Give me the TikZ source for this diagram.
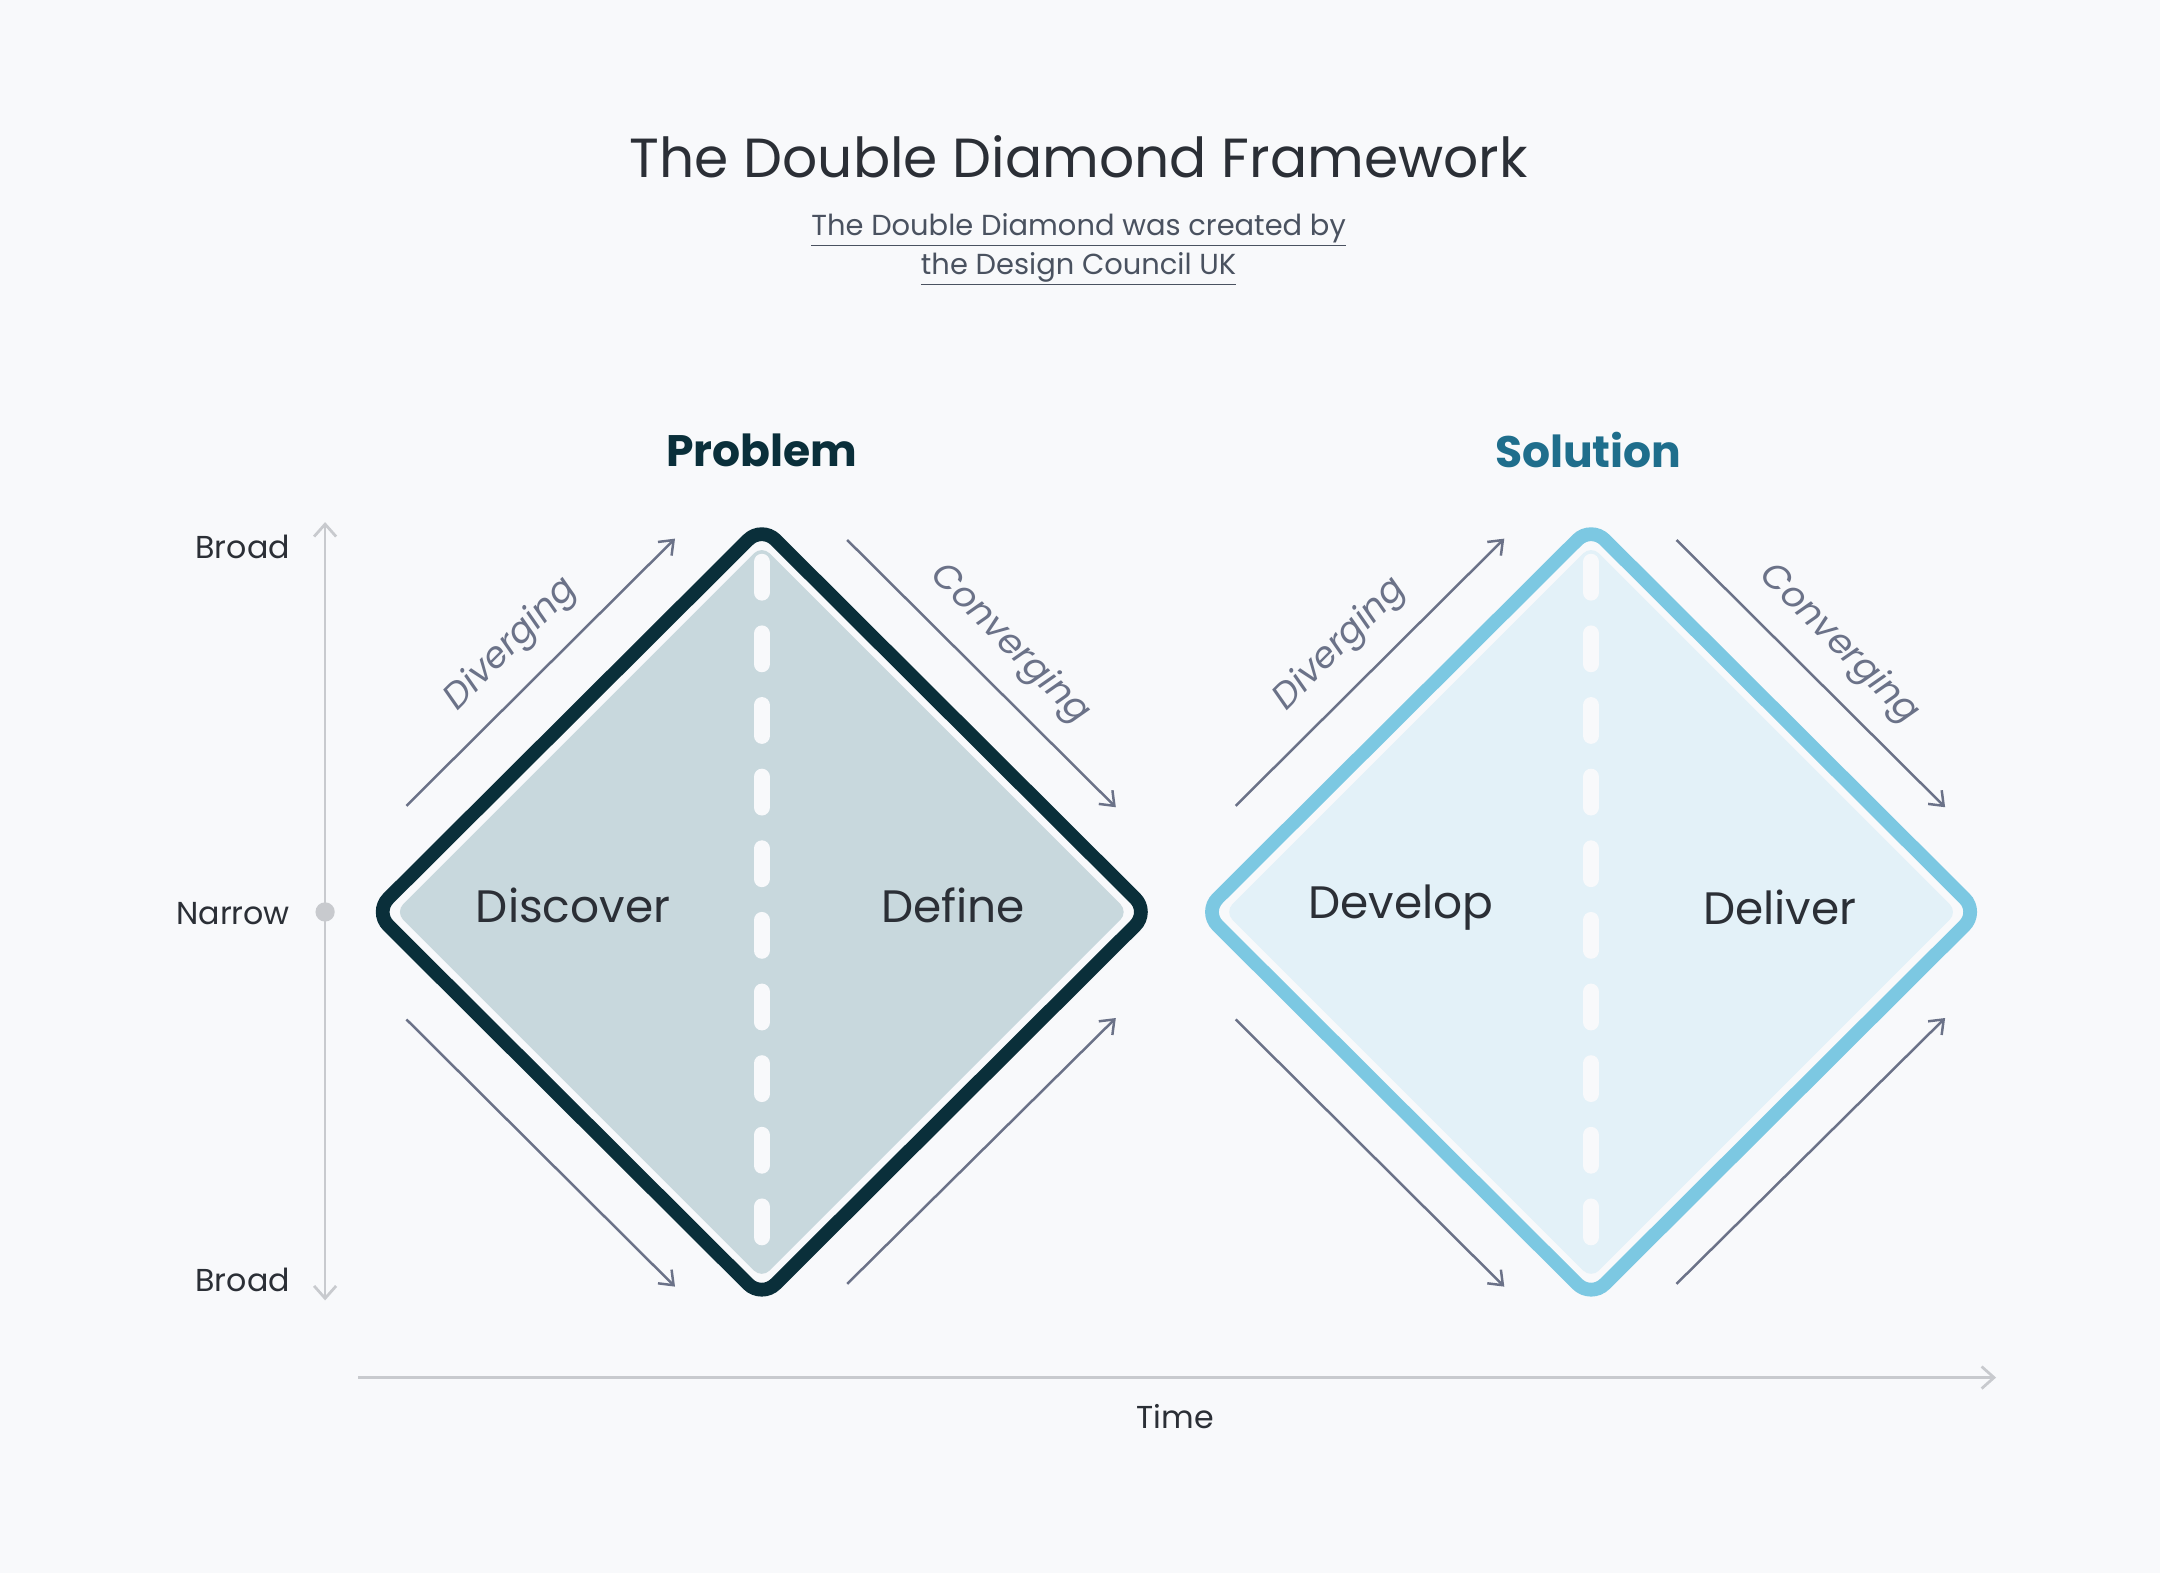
\documentclass[tikz,border=0pt]{standalone}
\usepackage{fontspec}
\setmainfont{Poppins}
\usetikzlibrary{positioning,arrows.meta}
\definecolor{bgcol}{HTML}{F8F9FB}
\definecolor{textcol}{HTML}{2B2F36}
\definecolor{subcol}{HTML}{4A5260}
\definecolor{probcol}{HTML}{0A2F3A}
\definecolor{probfill}{HTML}{C8D8DD}
\definecolor{solcol}{HTML}{7CC8E2}
\definecolor{solfill}{HTML}{E3F1F8}
\definecolor{solhead}{HTML}{1F6E8C}
\definecolor{arrcol}{HTML}{6B7288}
\definecolor{axiscol}{HTML}{C8CACE}
\tikzset{
  phase/.style={font=\fontsize{33}{36}\selectfont, text=textcol},
  heading/.style={font=\fontsize{32}{36}\selectfont\bfseries},
  side/.style={font=\fontsize{23}{26}\selectfont, text=textcol, anchor=east},
  flow/.style={font=\fontsize{26}{28}\selectfont\itshape, text=arrcol},
  line/.style={-{Straight Barb[length=9pt,width=14pt]}, draw=arrcol, line width=1.8pt},
  axis/.style={{Straight Barb[length=9pt,width=16pt]}-{Straight Barb[length=9pt,width=16pt]}, draw=axiscol, line width=2pt}
}
\begin{document}
\begin{tikzpicture}[x=1pt,y=-1pt]
  \fill[bgcol] (0,0) rectangle (1568,1142);
  \useasboundingbox (0,0) rectangle (1568,1142);

  % title
  \node[font=\fontsize{40}{46}\selectfont, text=textcol] (title) at (783,114) {The Double Diamond Framework};
  \node[font=\fontsize{21}{28}\selectfont, text=subcol, align=center] (subtitle) at (783,181)
    {\underline{The Double Diamond was created by}\\\underline{the Design Council UK}};

  % headings
  \node[heading, text=probcol] (problem) at (553,327) {Problem};
  \node[heading, text=solhead] (solution) at (1153,327) {Solution};

  % diamonds
  \foreach \cx/\sc/\fc in {553/probcol/probfill, 1155/solcol/solfill} {
    \draw[draw=\sc, fill=bgcol, line width=10pt, rounded corners=14pt]
      (\cx,382) -- (\cx+281,662) -- (\cx,942) -- (\cx-281,662) -- cycle;
    \fill[\fc, rounded corners=8pt]
      (\cx,396) -- (\cx+266,662) -- (\cx,928) -- (\cx-266,662) -- cycle;
    \draw[bgcol, line width=12pt, line cap=round, dash pattern=on 22pt off 30pt]
      (\cx,408) -- (\cx,925);
    % arrows
    \coordinate (dl) at (\cx-258,585); \coordinate (dh) at (\cx-63,391);
    \coordinate (cl) at (\cx+62,392);  \coordinate (ch) at (\cx+257,586);
    \coordinate (bl) at (\cx-258,740); \coordinate (bh) at (\cx-63,934);
    \coordinate (el) at (\cx+62,932);  \coordinate (eh) at (\cx+257,739);
    \draw[line] (dl) -- (dh);
    \draw[line] (cl) -- (ch);
    \draw[line] (bl) -- (bh);
    \draw[line] (el) -- (eh);
    \node[flow, rotate=45] at (\cx-182,468) {Diverging};
    \node[flow, rotate=-45] at (\cx+180,468) {Converging};
  }

  \node[phase] (discover) at (416,657) {Discover};
  \node[phase] (define) at (692,657) {Define};
  \node[phase] (develop) at (1017,659) {Develop};
  \node[phase] (deliver) at (1292,659) {Deliver};

  % axes
  \coordinate (ytop) at (236,379);
  \coordinate (ybot) at (236,944);
  \draw[axis] (ytop) -- (ybot);
  \fill[axiscol] (236,662) circle (7pt);
  \node[side] (broadtop) at (214,397) {Broad};
  \node[side] (narrow) at (214,663) {Narrow};
  \node[side] (broadbot) at (214,929) {Broad};

  \coordinate (xstart) at (260,1000);
  \coordinate (xend) at (1449,1000);
  \draw[draw=axiscol, line width=2pt, -{Straight Barb[length=9pt,width=16pt]}] (xstart) -- (xend);
  \node[font=\fontsize{23}{26}\selectfont, text=textcol] (time) at (853,1028) {Time};
\end{tikzpicture}
\end{document}
